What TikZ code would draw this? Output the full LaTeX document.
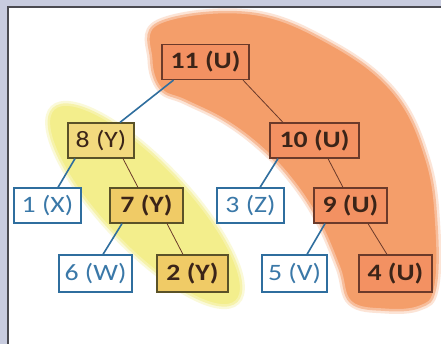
\documentclass[tikz,border=0pt]{standalone}
\usepackage{fontspec}
\setmainfont{Carlito}
\newfontfamily\boxfont{Carlito}[FakeStretch=1.18]
\definecolor{bgc}{HTML}{C8CCDF}
\definecolor{framec}{HTML}{4A4A50}
\definecolor{bandc}{HTML}{F49E6A}
\definecolor{yelc}{HTML}{F3EE8C}
\definecolor{obox}{HTML}{F39162}
\definecolor{ybox}{HTML}{F0CB66}
\definecolor{yboxl}{HTML}{F2D97E}
\definecolor{bluec}{HTML}{2F6E9E}
\definecolor{bluet}{HTML}{3A78A8}
\definecolor{darkb}{HTML}{6B3A2A}
\definecolor{darkt}{HTML}{3B2418}
\definecolor{olive}{HTML}{5A5228}
\tikzset{
  tbox/.style={draw, line width=1.2pt, minimum height=35pt, inner sep=1pt, font=\boxfont\fontsize{23.5}{23.5}\selectfont},
  bluebox/.style={tbox, draw=bluec, fill=white, text=bluet},
  orangebox/.style={tbox, draw=darkb, fill=obox, text=darkt, font=\boxfont\bfseries\fontsize{23.5}{23.5}\selectfont},
  yellowbox/.style={tbox, draw=olive, fill=ybox, text=darkt, font=\boxfont\bfseries\fontsize{23.5}{23.5}\selectfont},
  blueedge/.style={draw=bluec, line width=1.6pt},
  darkedge/.style={draw=darkb, line width=0.8pt},
}
\begin{document}
\begin{tikzpicture}[x=1pt,y=-1pt]
\useasboundingbox (0,0) rectangle (441,344);
\fill[bgc] (0,0) rectangle (441,344);
\fill[white] (8,7) rectangle (441,344);
\draw[framec, line width=2pt] (8,344) -- (8,7) -- (441,7);
% highlight blobs
\path[fill=bandc, draw=bandc!45, draw opacity=0.6, line width=5pt] plot[smooth cycle, tension=0.65] coordinates {
  (158,22) (250,12) (330,42) (395,92) (428,160) (438,230) (436,290) (420,308)
  (385,311) (350,303) (338,268) (318,222) (292,182) (262,150) (225,122)
  (185,102) (160,90) (150,60)};
\path[fill=yelc, draw=yelc!55, draw opacity=0.6, line width=5pt, rotate around={-46.5:(145,205)}] (145,205) ellipse [x radius=134pt, y radius=43pt];
% nodes
\node[orangebox, minimum width=87pt] (n11) at (205.5,62) {11 (U)};
\node[yellowbox, fill=yboxl, minimum width=66pt, font=\boxfont\fontsize{23.5}{23.5}\selectfont] (n8) at (101,140.5) {8 (Y)};
\node[orangebox, minimum width=89pt] (n10) at (314.5,140.5) {10 (U)};
\node[bluebox, minimum width=67pt] (n1) at (47.5,205.5) {1 (X)};
\node[yellowbox, minimum width=73pt] (n7) at (146.5,205.5) {7 (Y)};
\node[bluebox, minimum width=67pt] (n3) at (250.5,205.5) {3 (Z)};
\node[orangebox, minimum width=73pt] (n9) at (350.5,205.5) {9 (U)};
\node[bluebox, minimum width=73pt, minimum height=37pt] (n6) at (95.5,273.5) {6 (W)};
\node[yellowbox, minimum width=71pt, minimum height=37pt] (n2) at (192.5,273.5) {2 (Y)};
\node[bluebox, minimum width=65pt, minimum height=37pt] (n5) at (294.5,273.5) {5 (V)};
\node[orangebox, minimum width=73pt, minimum height=37pt] (n4) at (395.5,273.5) {4 (U)};
% edges
\draw[blueedge] ([xshift=-32pt]n11.south) -- ([xshift=19pt]n8.north);
\draw[darkedge] ([xshift=37.5pt]n11.south) -- ([xshift=-31.5pt]n10.north);
\draw[blueedge] ([xshift=-26pt]n8.south) -- ([xshift=10.5pt]n1.north);
\draw[darkedge] ([xshift=22pt]n8.south) -- ([xshift=-8.5pt]n7.north);
\draw[blueedge] ([xshift=-36.5pt]n10.south) -- ([xshift=9.5pt]n3.north);
\draw[darkedge] ([xshift=13.5pt]n10.south) -- ([xshift=-7.5pt]n9.north);
\draw[blueedge] ([xshift=-24.5pt]n7.south) -- ([xshift=7.5pt]n6.north);
\draw[darkedge] ([xshift=20.5pt]n7.south) -- ([xshift=-9.5pt]n2.north);
\draw[blueedge] ([xshift=-25.5pt]n9.south) -- ([xshift=12.5pt]n5.north);
\draw[darkedge] ([xshift=17.5pt]n9.south) -- ([xshift=-8.5pt]n4.north);
\end{tikzpicture}
\end{document}
